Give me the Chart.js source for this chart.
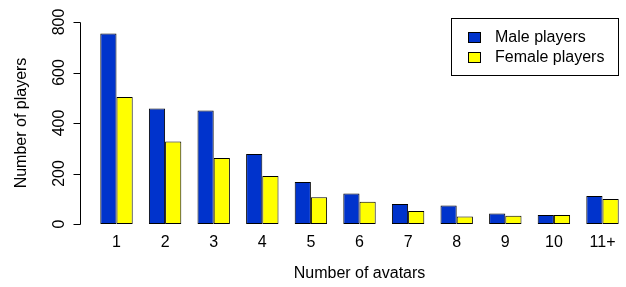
<!DOCTYPE html>
<html>
<head>
<meta charset="utf-8">
<script src="https://cdn.jsdelivr.net/npm/chart.js@4.4.0/dist/chart.umd.min.js"></script>
<style>
  html, body { margin: 0; padding: 0; background: #fff; overflow: hidden; }
  #wrap { width: 640px; height: 287px; }
</style>
</head>
<body>
<div id="wrap"><canvas id="myChart" width="640" height="287"></canvas></div>
<script>
const categories = ["1", "2", "3", "4", "5", "6", "7", "8", "9", "10", "11+"];
const maleValues = [754, 457, 450, 277, 166, 121, 79, 73, 42, 36, 111];
const femaleValues = [503, 327, 261, 190, 106, 88, 51, 30, 33, 36, 99];
const yTicks = [0, 200, 400, 600, 800];

const FONT = "'Liberation Sans', Arial, Helvetica, sans-serif";

// draws the R-style y axis and the boxed legend
const extras = {
  id: "extras",
  afterDraw(chart) {
    const ctx = chart.ctx;
    const y = chart.scales.y;
    const axisX = 80.5;
    ctx.save();
    ctx.strokeStyle = "#000";
    ctx.lineWidth = 1;
    ctx.beginPath();
    ctx.moveTo(axisX, Math.round(y.getPixelForValue(yTicks[0])) + 0.5);
    ctx.lineTo(axisX, Math.round(y.getPixelForValue(yTicks[yTicks.length - 1])) + 0.5);
    yTicks.forEach((v) => {
      const py = Math.round(y.getPixelForValue(v)) + 0.5;
      ctx.moveTo(axisX, py);
      ctx.lineTo(axisX - 7, py);
    });
    ctx.stroke();

    ctx.fillStyle = "#000";
    ctx.font = "16px " + FONT;
    ctx.textAlign = "center";
    ctx.textBaseline = "middle";
    yTicks.forEach((v) => {
      const py = y.getPixelForValue(v);
      ctx.save();
      ctx.translate(60, py);
      ctx.rotate(-Math.PI / 2);
      ctx.fillText(String(v), 0, 0);
      ctx.restore();
    });
    ctx.save();
    ctx.translate(22, (y.top + y.bottom) / 2);
    ctx.rotate(-Math.PI / 2);
    ctx.fillText("Number of players", 0, 0);
    ctx.restore();

    // legend
    ctx.strokeRect(451.5, 18.5, 167, 57);
    chart.data.datasets.forEach((ds, i) => {
      const ly = 38 + i * 20;
      ctx.fillStyle = ds.backgroundColor;
      ctx.fillRect(468.5, ly - 5.5, 12, 10);
      ctx.strokeRect(468.5, ly - 5.5, 12, 10);
      ctx.fillStyle = "#000";
      ctx.textAlign = "left";
      ctx.fillText(ds.label, 495, ly);
    });
    ctx.restore();
  },
};

new Chart(document.getElementById("myChart"), {
  type: "bar",
  data: {
    labels: categories,
    datasets: [
      {
        label: "Male players",
        data: maleValues,
        backgroundColor: "#0033CC",
        borderColor: "#000",
        borderWidth: 1,
        borderSkipped: false,
        categoryPercentage: 2 / 3,
        barPercentage: 1,
      },
      {
        label: "Female players",
        data: femaleValues,
        backgroundColor: "#FFFF00",
        borderColor: "#000",
        borderWidth: 1,
        borderSkipped: false,
        categoryPercentage: 2 / 3,
        barPercentage: 1,
      },
    ],
  },
  options: {
    responsive: false,
    animation: false,
    devicePixelRatio: 1,
    layout: { padding: { left: 92.2, right: 13.2, top: 22, bottom: 0 } },
    plugins: {
      legend: { display: false },
      tooltip: { enabled: false },
    },
    scales: {
      y: {
        display: false,
        min: 0,
        max: 800,
      },
      x: {
        border: { display: false },
        grid: { display: false, drawTicks: false },
        ticks: {
          color: "#000",
          padding: 9,
          font: { family: FONT, size: 16 },
          maxRotation: 0,
          autoSkip: false,
        },
        title: {
          display: true,
          text: "Number of avatars",
          color: "#000",
          font: { family: FONT, size: 16, lineHeight: 1.2 },
        },
        afterFit: (scale) => {
          scale.height = 63;
        },
      },
    },
  },
  plugins: [extras],
});
</script>
</body>
</html>
